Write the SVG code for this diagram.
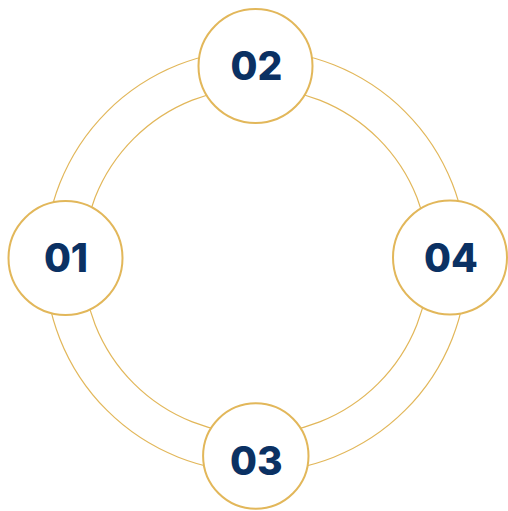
<svg xmlns="http://www.w3.org/2000/svg" width="508" height="511" viewBox="0 0 508 511">
<style>
.ring{fill:none;stroke:#E2B75A;stroke-width:1.2}
.node{fill:#FFFFFF;stroke:#E2B75A;stroke-width:2}
.lbl{font-family:Inter,"Open Sans","DejaVu Sans",sans-serif;font-weight:800;font-size:39px;fill:#0B3163;text-anchor:middle}
</style>
<rect width="508" height="511" fill="#FFFFFF"/>
<g id="connectors">
<circle class="ring" cx="256" cy="261" r="211"/>
<circle class="ring" cx="256" cy="261" r="173"/>
</g>
<g id="node-01">
<circle class="node" cx="65.5" cy="258" r="57"/>
<text class="lbl" x="66" y="271.7">01</text>
</g>
<g id="node-02">
<circle class="node" cx="255.5" cy="66" r="57"/>
<text class="lbl" x="256.5" y="80">02</text>
</g>
<g id="node-03">
<circle class="node" cx="255.8" cy="456" r="52.7"/>
<text class="lbl" x="256.3" y="475">03</text>
</g>
<g id="node-04">
<circle class="node" cx="450" cy="257.5" r="57"/>
<text class="lbl" x="451" y="271.7">04</text>
</g>
</svg>
